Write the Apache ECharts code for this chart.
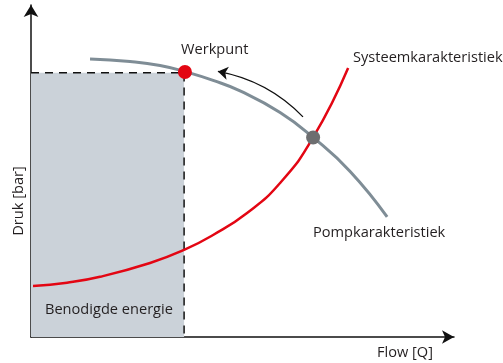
<!DOCTYPE html>
<html>
<head>
<meta charset="utf-8">
<script src="https://cdn.jsdelivr.net/npm/echarts@6/dist/echarts.min.js"></script>
<style>
html,body{margin:0;padding:0;background:#fff;}
#chart{width:503px;height:363px;}
</style>
</head>
<body>
<div id="chart"></div>
<script>
// Data (arbitrary units on both axes)
const pumpCurve = [[14.15,85.02],[23.74,84.25],[30.94,83.03],[37.17,81.04],[43.65,78.44],[50.12,75.23],[59.71,68.65],[67.63,61.01],[76.50,50.61],[85.37,36.70]];
const systemCurve = [[0.48,15.60],[8.63,16.61],[16.55,18.41],[28.54,22.63],[36.69,26.61],[43.65,31.19],[51.80,37.92],[59.71,47.09],[67.63,61.01],[76.02,82.26]];
const workPoint = [36.9, 81.0];
const intersectionPoint = [67.63, 61.01];
const energyBox = [36.7, 80.8];
const shiftArrow = [[65.2, 67.3], [44.8, 81.2]];
const labels = {
  yName: 'Druk [bar]',
  xName: 'Flow [Q]',
  work: 'Werkpunt',
  system: 'Systeemkarakteristiek',
  pump: 'Pompkarakteristiek',
  energy: 'Benodigde energie'
};

const chart = echarts.init(document.getElementById('chart'), null, {renderer: 'canvas'});
const FONT = '"Open Sans", "Noto Sans", sans-serif';
const TXT = '#231f20';
function txt(text, x, y, align, rotation) {
  return {
    type: 'text', x: x, y: y, rotation: rotation || 0, z: 100,
    style: { text: text, font: '14.6px ' + FONT, fill: TXT, textAlign: align || 'left', textVerticalAlign: 'middle' }
  };
}
const axisLineStyle = {color: '#111', width: 1.5};
chart.setOption({
  animation: false,
  grid: { left: 31, right: 49, top: 5, bottom: 26 },
  xAxis: {
    type: 'value', min: 0, max: 101.4,
    axisTick: {show: false}, axisLabel: {show: false}, splitLine: {show: false},
    axisLine: { show: true, symbol: ['none', 'arrow'], symbolSize: [10, 12], lineStyle: axisLineStyle }
  },
  yAxis: {
    type: 'value', min: 0, max: 101.5,
    axisTick: {show: false}, axisLabel: {show: false}, splitLine: {show: false},
    axisLine: { show: true, symbol: ['none', 'arrow'], symbolSize: [11, 12], lineStyle: axisLineStyle }
  },
  series: [
    {
      type: 'line', name: 'box', data: [[0, energyBox[1]], [energyBox[0], energyBox[1]], [energyBox[0], 0]],
      symbol: 'none', z: 2,
      lineStyle: {color: '#111', width: 1.5, type: [8, 6]},
      markArea: {
        silent: true,
        itemStyle: {color: '#cbd2d9', opacity: 1},
        data: [[{coord: [0, 0]}, {coord: energyBox}]]
      }
    },
    {
      type: 'line', name: 'system', data: systemCurve, smooth: 0.5, symbol: 'none', z: 3,
      lineStyle: {color: '#e30613', width: 2.5}
    },
    {
      type: 'line', name: 'pump', data: pumpCurve, smooth: 0.5, symbol: 'none', z: 4,
      lineStyle: {color: '#7f8d96', width: 3}
    },
    {
      type: 'lines', coordinateSystem: 'cartesian2d', z: 5,
      symbol: ['none', 'arrow'], symbolSize: 10,
      lineStyle: {color: '#111', width: 1.3, curveness: -0.16, opacity: 1},
      itemStyle: {color: '#111', opacity: 1},
      data: [{coords: shiftArrow}]
    },
    {
      type: 'scatter', data: [intersectionPoint], symbolSize: 14, z: 6,
      itemStyle: {color: '#6d6e70', opacity: 1}
    },
    {
      type: 'scatter', data: [workPoint], symbolSize: 14, z: 7,
      itemStyle: {color: '#e30613', opacity: 1}
    }
  ],
  graphic: [
    txt(labels.work, 181, 50),
    txt(labels.system, 353, 58),
    txt(labels.pump, 313, 233),
    txt(labels.energy, 45, 310),
    txt(labels.xName, 433, 353, 'right'),
    txt(labels.yName, 19, 201, 'center', Math.PI / 2)
  ]
});
</script>
</body>
</html>
